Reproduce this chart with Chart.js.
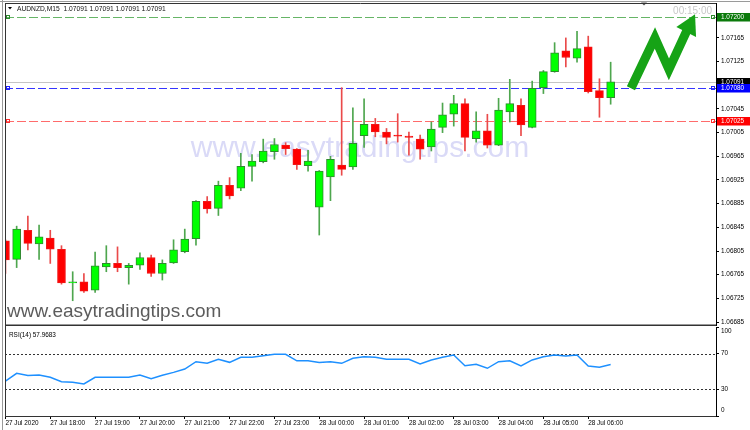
<!DOCTYPE html>
<html>
<head>
<meta charset="utf-8">
<script src="https://cdn.jsdelivr.net/npm/chart.js@4.4.0/dist/chart.umd.min.js"></script>
<style>
  html, body { margin: 0; padding: 0; background: #fff; }
  body { width: 750px; height: 430px; position: relative; overflow: hidden; }
  #mainWrap { position: absolute; left: 0; top: 0; width: 750px; height: 326px; }
  #rsiWrap { position: absolute; left: 0; top: 325px; width: 750px; height: 105px; }
</style>
</head>
<body>
<div id="mainWrap"><canvas id="priceChart"></canvas></div>
<div id="rsiWrap"><canvas id="rsiChart"></canvas></div>
<script>
// AUDNZD M15 candles, 27 Jul 17:00 .. 28 Jul 06:30
const opens  = [1.06822, 1.06791, 1.06840, 1.06817, 1.06827, 1.06808, 1.06751, 1.06753, 1.06739, 1.06778,
                1.06784, 1.06777, 1.06781, 1.06794, 1.06767, 1.06785, 1.06804, 1.06826, 1.06889, 1.06877,
                1.06916, 1.06911, 1.06948, 1.06956, 1.06973, 1.06984, 1.06977, 1.06949, 1.06879, 1.06930,
                1.06950, 1.06947, 1.07000, 1.07019, 1.07006, 1.07001, 1.06999, 1.06994, 1.06981, 1.07014,
                1.07036, 1.07054, 1.06995, 1.07008, 1.06984, 1.07040, 1.07051, 1.07014, 1.07081, 1.07108,
                1.07143, 1.07131, 1.07150, 1.07076, 1.07064];
const highs  = [1.06824, 1.06847, 1.06864, 1.06849, 1.06840, 1.06814, 1.06770, 1.06767, 1.06803, 1.06814,
                1.06812, 1.06784, 1.06802, 1.06798, 1.06790, 1.06824, 1.06842, 1.06890, 1.06897, 1.06923,
                1.06929, 1.06970, 1.06968, 1.06994, 1.06995, 1.06988, 1.06978, 1.06975, 1.06941, 1.06965,
                1.07081, 1.07047, 1.07062, 1.07029, 1.07012, 1.07037, 1.07006, 1.07001, 1.07023, 1.07055,
                1.07068, 1.07062, 1.07040, 1.07036, 1.07063, 1.07095, 1.07062, 1.07092, 1.07110, 1.07157,
                1.07165, 1.07176, 1.07168, 1.07096, 1.07124];
const lows   = [1.06767, 1.06777, 1.06807, 1.06791, 1.06784, 1.06749, 1.06721, 1.06735, 1.06735, 1.06770,
                1.06770, 1.06749, 1.06774, 1.06762, 1.06756, 1.06784, 1.06802, 1.06815, 1.06869, 1.06865,
                1.06893, 1.06907, 1.06923, 1.06954, 1.06960, 1.06968, 1.06943, 1.06940, 1.06832, 1.06890,
                1.06933, 1.06943, 1.06980, 1.06998, 1.06986, 1.06989, 1.06967, 1.06960, 1.06974, 1.07005,
                1.07016, 1.06974, 1.06989, 1.06979, 1.06983, 1.07023, 1.07000, 1.07013, 1.07071, 1.07107,
                1.07116, 1.07124, 1.07072, 1.07031, 1.07053];
const closes = [1.06790, 1.06842, 1.06818, 1.06829, 1.06808, 1.06751, 1.06753, 1.06737, 1.06780, 1.06784,
                1.06777, 1.06781, 1.06794, 1.06767, 1.06784, 1.06807, 1.06825, 1.06889, 1.06876, 1.06916,
                1.06898, 1.06948, 1.06957, 1.06974, 1.06985, 1.06978, 1.06951, 1.06957, 1.06940, 1.06960,
                1.06943, 1.06987, 1.07019, 1.07006, 1.06997, 1.06999, 1.06997, 1.06977, 1.07011, 1.07035,
                1.07054, 1.06997, 1.07008, 1.06984, 1.07043, 1.07054, 1.07018, 1.07080, 1.07108, 1.07140,
                1.07132, 1.07147, 1.07074, 1.07064, 1.07091];

const rsiValues = [39.3, 48, 45.5, 46, 43.5, 38.5, 37.8, 36, 43.5, 43.5,
                   43.5, 43.5, 46, 42, 45.7, 49, 52.8, 61, 59.2, 63.7,
                   60.3, 66, 66, 67.8, 69.3, 69.3, 62, 62, 60, 61,
                   59.2, 64.8, 66.6, 66, 63.7, 63.7, 63.7, 58.4, 63, 66,
                   68.5, 56.5, 58, 53.6, 61, 62, 56.2, 63, 66.6, 68.5,
                   67.4, 68.5, 56.2, 54.7, 57.97];

const axisTickIndex = [0, 4, 8, 12, 16, 20, 24, 28, 32, 36, 40, 44, 48, 52];
const axisTimeLabels = ["27 Jul 2020", "27 Jul 18:00", "27 Jul 19:00", "27 Jul 20:00", "27 Jul 21:00",
                        "27 Jul 22:00", "27 Jul 23:00", "28 Jul 00:00", "28 Jul 01:00", "28 Jul 02:00",
                        "28 Jul 03:00", "28 Jul 04:00", "28 Jul 05:00", "28 Jul 06:00"];
const priceTicks = [1.06685, 1.06725, 1.06765, 1.06805, 1.06845, 1.06885, 1.06925, 1.06965,
                    1.07005, 1.07045, 1.07125, 1.07165];
const rsiTicks = [0, 30, 70, 100];
const rsiLevels = [30, 70];
const levelPrices = [1.07200, 1.07091, 1.07080, 1.07025];
const symbolTitle = "AUDNZD,M15  1.07091 1.07091 1.07091 1.07091";
const rsiTitle = "RSI(14) 57.9683";

// styles for the level lines (same order as levelPrices)
const levelStyles = [
    { line: "#66b566", dash: [9, 3], box: "#0b7a0b", marker: "#2e8b2e" },
    { line: "#c4c4c4", dash: [], box: "#000000", marker: null },
    { line: "#3535ff", dash: [8, 3], box: "#0000ff", marker: "#2222ff" },
    { line: "#ff6b6b", dash: [9, 3], box: "#ff0000", marker: "#ff3030" }
];

const FONT = "'Liberation Sans', Arial, sans-serif";
Chart.defaults.font.family = FONT;
Chart.defaults.color = "#000";

const xMin = -0.04;
const xMax = 63.4;

const isUp = opens.map((o, i) => closes[i] >= o);
const wickData = opens.map((o, i) => ({ x: i, y: [lows[i], highs[i]] }));
const bodyData = opens.map((o, i) => ({ x: i, y: [o, closes[i]] }));

// the green arrow, placed in chart value space (candle index, price)
const arrowPts = [[55.81, 1.07080], [57.95, 1.07165], [59.2, 1.07112], [60.82, 1.07178]];
const arrowTip = [61.53, 1.07205];

function noPad(scale) {
    scale.paddingTop = 0;
    scale.paddingBottom = 0;
    scale.paddingLeft = 0;
    scale.paddingRight = 0;
}

const mainDecor = {
    id: "mainDecor",
    beforeDatasetsDraw(chart) {
        const { ctx, chartArea: a, scales } = chart;
        const y = scales.y;
        ctx.save();
        ctx.beginPath();
        ctx.rect(a.left, a.top, a.right - a.left, a.bottom - a.top);
        ctx.clip();

        // watermarks
        ctx.font = "30px " + FONT;
        ctx.fillStyle = "#dadaf7";
        ctx.textAlign = "center";
        ctx.textBaseline = "alphabetic";
        ctx.fillText("www.easytradingtips.com", 360, 157);
        ctx.font = "19px " + FONT;
        ctx.fillStyle = "#5c5c5c";
        ctx.textAlign = "left";
        ctx.fillText("www.easytradingtips.com", 7, 316.5);

        // level lines
        levelPrices.forEach((v, k) => {
            const s = levelStyles[k];
            const py = Math.round(y.getPixelForValue(v)) + 0.5;
            ctx.strokeStyle = s.line;
            ctx.lineWidth = 1;
            ctx.setLineDash(s.dash);
            ctx.beginPath();
            ctx.moveTo(a.left, py);
            ctx.lineTo(a.right, py);
            ctx.stroke();
        });
        ctx.setLineDash([]);
        ctx.restore();
    },
    afterDraw(chart) {
        const { ctx, chartArea: a, scales } = chart;
        const x = scales.x, y = scales.y;
        ctx.save();

        // arrow
        ctx.save();
        ctx.beginPath();
        ctx.rect(a.left, a.top, a.right - a.left, a.bottom - a.top);
        ctx.clip();
        const pts = arrowPts.map(p => [x.getPixelForValue(p[0]), y.getPixelForValue(p[1])]);
        const tip = [x.getPixelForValue(arrowTip[0]), y.getPixelForValue(arrowTip[1])];
        ctx.strokeStyle = "#16a316";
        ctx.fillStyle = "#16a316";
        ctx.lineWidth = 9;
        ctx.lineJoin = "miter";
        ctx.lineCap = "butt";
        ctx.beginPath();
        pts.forEach((p, k) => k ? ctx.lineTo(p[0], p[1]) : ctx.moveTo(p[0], p[1]));
        ctx.stroke();
        const last = pts[pts.length - 1];
        let dx = tip[0] - last[0], dy = tip[1] - last[1];
        const len = Math.hypot(dx, dy);
        dx /= len; dy /= len;
        const bx = last[0] - dx * 2, by = last[1] - dy * 2;
        ctx.beginPath();
        ctx.moveTo(tip[0], tip[1]);
        ctx.lineTo(bx - dy * 11, by + dx * 11);
        ctx.lineTo(bx + dy * 11, by - dx * 11);
        ctx.closePath();
        ctx.fill();
        ctx.restore();

        // level markers and price boxes
        ctx.lineWidth = 1;
        levelPrices.forEach((v, k) => {
            const s = levelStyles[k];
            const py = Math.round(y.getPixelForValue(v));
            if (s.marker) {
                ctx.strokeStyle = s.marker;
                ctx.strokeRect(a.left + 1.5, py - 1.5, 3, 3);
                ctx.strokeRect(a.right - 4.5, py - 1.5, 3, 3);
            }
        });
        ctx.font = "6.4px " + FONT;
        ctx.textAlign = "left";
        ctx.textBaseline = "middle";
        levelPrices.forEach((v, k) => {
            const s = levelStyles[k];
            const py = Math.round(y.getPixelForValue(v));
            ctx.fillStyle = s.box;
            ctx.fillRect(a.right + 1, py - 4, 750 - a.right - 1, 8.5);
            ctx.fillStyle = "#fff";
            ctx.fillText(v.toFixed(5), a.right + 5, py + 0.5);
        });

        // title, countdown
        ctx.fillStyle = "#000";
        ctx.beginPath();
        ctx.moveTo(8, 7); ctx.lineTo(12, 7); ctx.lineTo(10, 9.5); ctx.closePath();
        ctx.fill();
        ctx.font = "6.7px " + FONT;
        ctx.textBaseline = "alphabetic";
        ctx.fillStyle = "#111";
        ctx.fillText(symbolTitle, 17, 11);
        ctx.font = "10px " + FONT;
        ctx.fillStyle = "#c8c8c8";
        ctx.textAlign = "right";
        ctx.fillText("00:15:00", 712, 14);
        ctx.fillStyle = "#555";
        ctx.beginPath();
        ctx.moveTo(641, 2.5); ctx.lineTo(647, 2.5); ctx.lineTo(644, 5.5); ctx.closePath();
        ctx.fill();

        // frame
        ctx.strokeStyle = "#9a9a9a";
        ctx.beginPath();
        ctx.moveTo(2.5, 0); ctx.lineTo(2.5, 326);
        ctx.moveTo(0, 1.5); ctx.lineTo(750, 1.5);
        ctx.stroke();
        ctx.strokeStyle = "#333";
        ctx.beginPath();
        ctx.moveTo(a.left + 0.5, a.top); ctx.lineTo(a.left + 0.5, 326);
        ctx.moveTo(a.left, a.top + 0.5); ctx.lineTo(a.right, a.top + 0.5);
        ctx.stroke();
        ctx.lineWidth = 2;
        ctx.beginPath();
        ctx.moveTo(a.left, a.bottom + 0.5); ctx.lineTo(a.right, a.bottom + 0.5);
        ctx.stroke();
        ctx.restore();
    }
};

new Chart("priceChart", {
    type: "bar",
    data: {
        datasets: [
            {
                label: "wick",
                data: wickData,
                backgroundColor: isUp.map(u => u ? "#4ea64e" : "#ea4a4a"),
                barThickness: 1,
                grouped: false,
                order: 2
            },
            {
                label: "body",
                data: bodyData,
                backgroundColor: isUp.map(u => u ? "#00ff00" : "#ff0000"),
                borderColor: isUp.map(u => u ? "#2f8a2f" : "#f01818"),
                borderWidth: 1,
                borderSkipped: false,
                barThickness: 8,
                minBarLength: 1,
                grouped: false,
                order: 1
            }
        ]
    },
    options: {
        responsive: true,
        maintainAspectRatio: false,
        animation: false,
        events: [],
        layout: { padding: { left: 5, top: 3, right: 0, bottom: 1 } },
        plugins: { legend: { display: false }, tooltip: { enabled: false } },
        scales: {
            x: { type: "linear", min: xMin, max: xMax, offset: false, display: false },
            y: {
                type: "linear",
                position: "right",
                min: 1.06680,
                max: 1.07224,
                afterBuildTicks: s => { s.ticks = priceTicks.map(v => ({ value: v })); },
                afterFit: s => { s.width = 34; noPad(s); },
                ticks: {
                    font: { size: 6.4 },
                    color: "#000",
                    padding: 2,
                    callback: v => Number(v).toFixed(5)
                },
                grid: { drawOnChartArea: false, drawTicks: true, tickLength: 3, color: "#000" },
                border: { display: true, color: "#000" }
            }
        }
    },
    plugins: [mainDecor]
});

const rsiDecor = {
    id: "rsiDecor",
    beforeDatasetsDraw(chart) {
        const { ctx, chartArea: a, scales } = chart;
        ctx.save();
        ctx.strokeStyle = "#333";
        ctx.lineWidth = 1;
        ctx.setLineDash([2, 2]);
        rsiLevels.forEach(v => {
            const py = Math.round(scales.y.getPixelForValue(v)) + 0.5;
            ctx.beginPath();
            ctx.moveTo(a.left, py);
            ctx.lineTo(a.right, py);
            ctx.stroke();
        });
        ctx.restore();
    },
    afterDraw(chart) {
        const { ctx, chartArea: a, scales } = chart;
        ctx.save();
        ctx.fillStyle = "#000";
        ctx.font = "6.4px " + FONT;
        ctx.textAlign = "left";
        ctx.textBaseline = "middle";
        ctx.fillText(rsiTitle, 9, a.top + 8);
        rsiTicks.forEach(v => {
            let py = scales.y.getPixelForValue(v);
            py = Math.min(Math.max(py, a.top + 4.5), a.bottom - 5.5);
            ctx.fillText(String(v), a.right + 5, py);
        });
        ctx.strokeStyle = "#9a9a9a";
        ctx.beginPath();
        ctx.moveTo(2.5, 0); ctx.lineTo(2.5, 105);
        ctx.stroke();
        ctx.strokeStyle = "#333";
        ctx.beginPath();
        ctx.moveTo(a.left + 0.5, 0); ctx.lineTo(a.left + 0.5, a.bottom);
        ctx.stroke();
        ctx.restore();
    }
};

new Chart("rsiChart", {
    type: "line",
    data: {
        datasets: [{
            label: "RSI(14)",
            data: rsiValues.map((v, i) => ({ x: i, y: v })),
            borderColor: "#1e90ff",
            borderWidth: 1.5,
            pointRadius: 0,
            tension: 0,
            fill: false
        }]
    },
    options: {
        responsive: true,
        maintainAspectRatio: false,
        animation: false,
        events: [],
        layout: { padding: { left: 5, top: 2, right: 0, bottom: 0 } },
        plugins: { legend: { display: false }, tooltip: { enabled: false } },
        scales: {
            x: {
                type: "linear",
                min: xMin,
                max: xMax,
                offset: false,
                afterBuildTicks: s => { s.ticks = axisTickIndex.map(v => ({ value: v })); },
                afterFit: s => { s.height = 14; noPad(s); },
                ticks: {
                    autoSkip: false,
                    maxRotation: 0,
                    align: "start",
                    padding: 0,
                    font: { size: 6.4 },
                    color: "#000",
                    callback: (v, i) => axisTimeLabels[i]
                },
                grid: { drawOnChartArea: false, drawTicks: true, tickLength: 3, color: "#000" },
                border: { display: true, color: "#333" }
            },
            y: {
                type: "linear",
                position: "right",
                min: 0,
                max: 100,
                afterBuildTicks: s => { s.ticks = rsiTicks.map(v => ({ value: v })); },
                afterFit: s => { s.width = 34; noPad(s); },
                ticks: { callback: () => "", padding: 2 },
                grid: { drawOnChartArea: false, drawTicks: true, tickLength: 3, color: "#000" },
                border: { display: true, color: "#000" }
            }
        }
    },
    plugins: [rsiDecor]
});
</script>
</body>
</html>
